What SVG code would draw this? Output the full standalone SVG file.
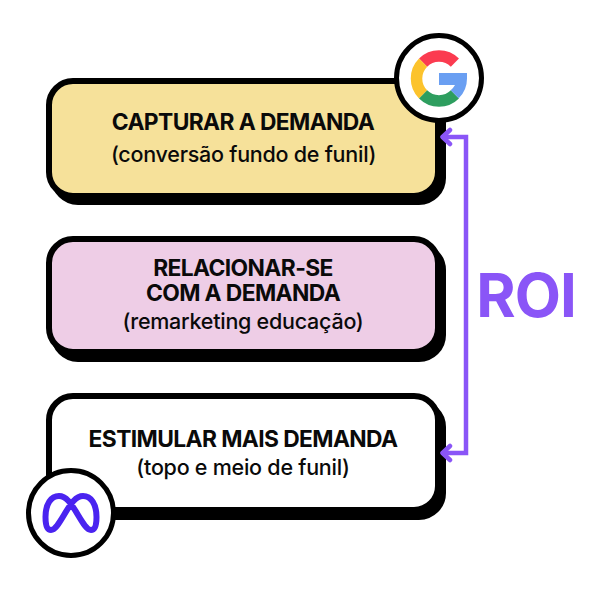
<svg xmlns="http://www.w3.org/2000/svg" width="592" height="592" viewBox="0 0 592 592">
<style>
.shadow{fill:#000;stroke:#000;stroke-width:6}
.box{stroke:#000;stroke-width:6}
.t{font-family:"Inter","Liberation Sans",sans-serif;text-anchor:middle;fill:#0a0a0a}
.b{font-size:22.8px;font-weight:700;letter-spacing:-.6px}
.r{font-size:21.500px;font-weight:500;letter-spacing:-.25px}
.badge{fill:#fff;stroke:#000;stroke-width:5}
.conn{fill:none;stroke:#8a55f7;stroke-width:4.5}
</style>
<rect width="592" height="592" fill="#fff"/>
<g id="node-capturar">
<rect class="shadow" x="54" y="88" width="389" height="114" rx="24"/>
<rect class="box" x="49" y="81" width="389" height="115" rx="24" fill="#f6e19a"/>
<text class="t b" x="243" y="130">CAPTURAR A DEMANDA</text>
<text class="t r" x="243.500" y="162">(conversão fundo de funil)</text>
</g>
<g id="node-relacionar">
<rect class="shadow" x="54" y="246" width="389" height="113" rx="24"/>
<rect class="box" x="49" y="239" width="389" height="113" rx="24" fill="#eecde6"/>
<text class="t b" x="243" y="276">RELACIONAR-SE</text>
<text class="t b" x="243" y="301">COM A DEMANDA</text>
<text class="t r" x="243" y="329">(remarketing educação)</text>
</g>
<g id="node-estimular">
<rect class="shadow" x="54" y="403" width="389" height="114" rx="24"/>
<rect class="box" x="49" y="396" width="389" height="114" rx="24" fill="#fff"/>
<text class="t b" x="243" y="447">ESTIMULAR MAIS DEMANDA</text>
<text class="t r" x="243" y="475">(topo e meio de funil)</text>
</g>
<g id="connectors">
<path class="conn" d="M445 137H466V453H445"/>
<path class="conn" stroke-linecap="round" stroke-linejoin="round" d="M450 130L442.500 137L450 144M450 446L442.500 453L450 460"/>
</g>
<text id="roi" class="t" x="526" y="317" font-size="60" font-weight="700" letter-spacing="-1" style="fill:#8a55f7">ROI</text>
<g id="node-google">
<circle class="badge" cx="439" cy="78" r="42.500"/>
<path d="M423.100 62.600A22.500 22.500 0 0 1 454.900 62.600" fill="none" stroke="#fb3b50" stroke-width="11.500"/>
<path d="M423.100 62.600A22.500 22.500 0 0 0 423.100 94.400" fill="none" stroke="#fcc32c" stroke-width="11.500"/>
<path d="M423.100 94.400A22.500 22.500 0 0 0 454.900 94.400" fill="none" stroke="#2e9e5f" stroke-width="11.500"/>
<path d="M439 73H467V78.500A28 28 0 0 1 458.800 98.300L450.700 90.200A16.500 16.500 0 0 0 455 85H439Z" fill="#6a9ff2"/>
</g>
<g id="node-meta">
<circle class="badge" cx="71" cy="513" r="42.500"/>
<path d="M45.500 517C45.500 504 51 496 59 496C66 496 71 503 78 515C84 525 87 530 91 530C95 530 96.500 525 96.500 517C96.500 504 91 496 83 496C76 496 71 503 64 515C58 525 55 530 51 530C47 530 45.500 525 45.500 517Z" fill="none" stroke="#4a23f0" stroke-width="6"/>
</g>
</svg>
